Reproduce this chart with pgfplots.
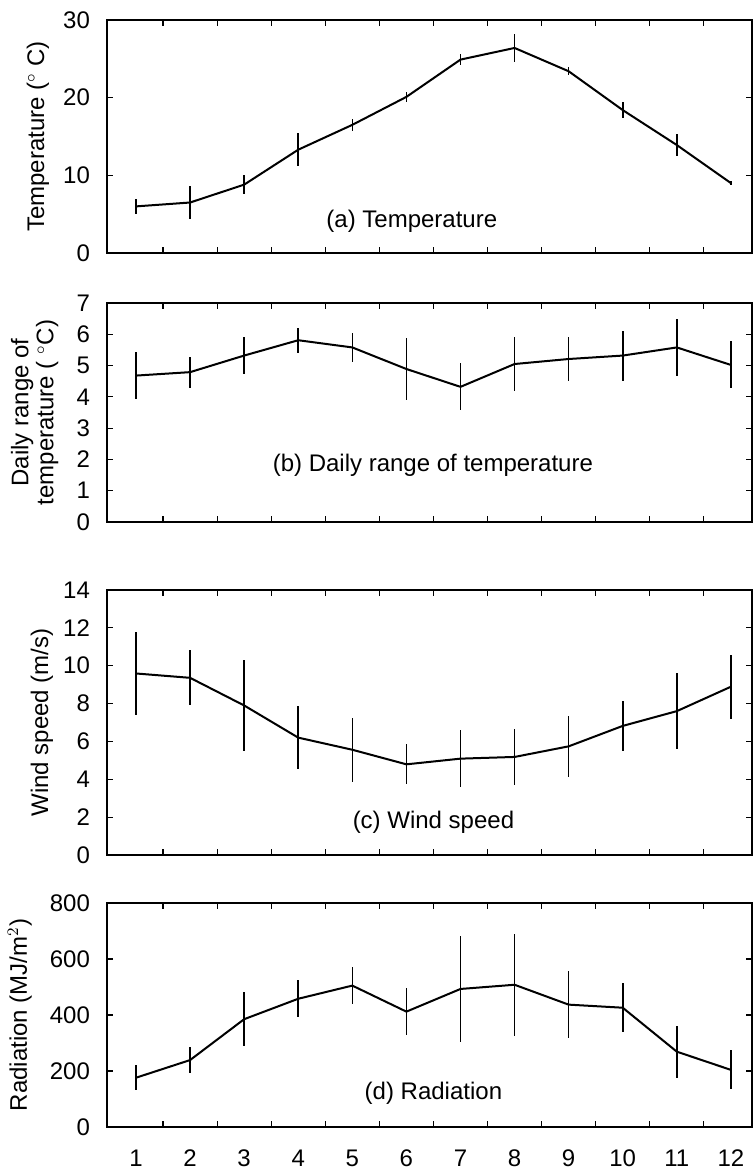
\documentclass[border=0pt]{standalone}
\usepackage{pgfplots}
\pgfplotsset{compat=1.18}
\usepackage{fontspec}
\setmainfont{Liberation Sans}
\pgfplotsset{
  panel/.style={
    scale only axis, width=322.5pt, anchor=south west,
    xmin=0.464, xmax=12.39,
    axis line style={line width=1pt},
    tick align=inside, major tick length=3pt,
    xtick={1.5,2.5,...,11.5}, xticklabels={},
    tick style={line width=0.6pt, black},
    /pgf/number format/assume math mode=true,
    ticklabel style={font=\fontsize{12}{12.5}\selectfont},
    yticklabel style={xshift=-5pt},
    label style={font=\fontsize{12}{12.5}\selectfont},
    error bars/y dir=both, error bars/y explicit,
    error bars/error mark=none,
    error bars/error bar style={line width=0.8pt, black},
    clip=false,
  },
  dat/.style={line width=1pt, black, mark=none},
}
\begin{document}
\begin{tikzpicture}
\useasboundingbox (0,0) rectangle (376.5pt,587pt);
% (a) Temperature
\begin{axis}[panel, at={(53.5pt,460.5pt)}, height=116.5pt,
  ymin=0, ymax=30, ytick={0,10,20,30},
  ylabel={Temperature ($^\circ$ C)},
  ylabel style={at={(axis description cs:-0.107,0.5)}, anchor=center}]
\addplot[dat] table[x=m, y=v, y error=e] {
m v e
1 6.0 1.0
2 6.5 2.1
3 8.8 1.2
4 13.3 2.1
5 16.5 0.8
6 20.1 0.6
7 24.9 0.7
8 26.4 1.8
9 23.4 0.5
10 18.4 1.0
11 13.9 1.4
12 9.0 0.3
};
\node[font=\fontsize{12}{12.5}\selectfont] at (axis cs:6.1,4.1) {(a) Temperature};
\end{axis}
% (b) Daily range
\begin{axis}[panel, at={(53.5pt,326pt)}, height=109.5pt,
  ymin=0, ymax=7, ytick={0,1,...,7},
  ylabel={Daily range of\\temperature ( $^\circ$C)},
  ylabel style={at={(axis description cs:-0.112,0.5)}, anchor=center, align=center}]
\addplot[dat] table[x=m, y=v, y error=e] {
m v e
1 4.68 0.74
2 4.79 0.5
3 5.32 0.6
4 5.81 0.4
5 5.58 0.45
6 4.89 1.0
7 4.32 0.75
8 5.05 0.85
9 5.21 0.7
10 5.32 0.8
11 5.58 0.9
12 5.02 0.75
};
\node[font=\fontsize{12}{12.5}\selectfont] at (axis cs:6.49,1.8) {(b) Daily range of temperature};
\end{axis}
% (c) Wind speed
\begin{axis}[panel, at={(53.5pt,159.5pt)}, height=132.5pt,
  ymin=0, ymax=14, ytick={0,2,...,14},
  ylabel={Wind speed (m/s)},
  ylabel style={at={(axis description cs:-0.101,0.5)}, anchor=center}]
\addplot[dat] table[x=m, y=v, y error=e] {
m v e
1 9.59 2.2
2 9.36 1.45
3 7.9 2.4
4 6.2 1.65
5 5.56 1.7
6 4.79 1.05
7 5.09 1.5
8 5.18 1.5
9 5.74 1.6
10 6.82 1.3
11 7.6 2.0
12 8.89 1.7
};
\node[font=\fontsize{12}{12.5}\selectfont] at (axis cs:6.5,1.73) {(c) Wind speed};
\end{axis}
% (d) Radiation
\begin{axis}[panel, at={(53.5pt,23.5pt)}, height=112pt,
  ymin=0, ymax=800, ytick={0,200,...,800},
  extra x ticks={1,2,...,12},
  extra x tick labels={1,2,3,4,5,6,7,8,9,10,11,12},
  extra x tick style={major tick length=0pt, xticklabel style={yshift=-8pt}},
  ylabel={Radiation (MJ/m$^2$)},
  ylabel style={at={(axis description cs:-0.135,0.5)}, anchor=center}]
\addplot[dat] table[x=m, y=v, y error=e] {
m v e
1 176 45
2 239 45
3 385 96
4 458 66
5 505 67
6 412 83
7 493 188
8 508 183
9 437 120
10 426 87
11 269 93
12 204 70
};
\node[font=\fontsize{12}{12.5}\selectfont] at (axis cs:6.5,120) {(d) Radiation};
\end{axis}
\end{tikzpicture}
\end{document}
